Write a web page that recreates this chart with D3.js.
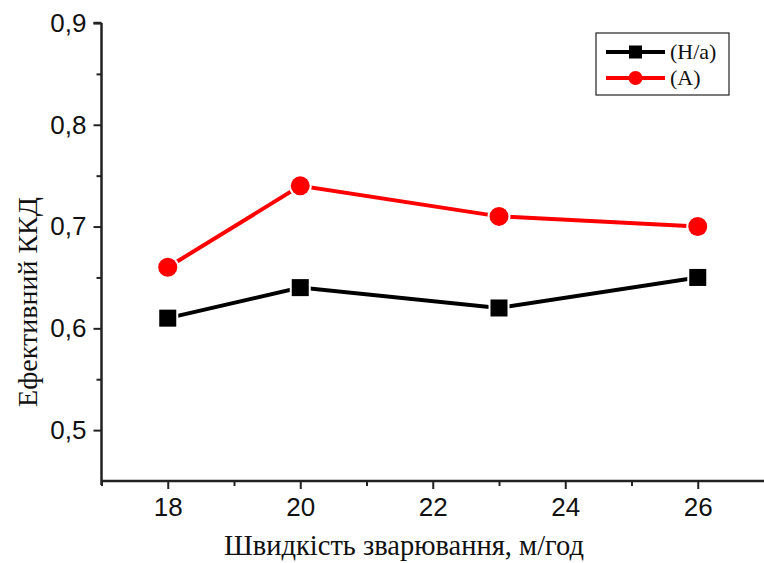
<!DOCTYPE html>
<html><head><meta charset="utf-8">
<script src="https://cdn.jsdelivr.net/npm/d3@7"></script>
<style>body{margin:0;background:#fff}svg{display:block}</style>
</head><body>
<script>
const speeds = [18, 20, 23, 26];
const seriesNa = [0.61, 0.64, 0.62, 0.65];
const seriesA = [0.66, 0.74, 0.71, 0.70];
const xTicks = [18, 20, 22, 24, 26];
const yTicks = [0.5, 0.6, 0.7, 0.8, 0.9];
const legendLabels = ["(H/a)", "(A)"];

const W = 764, H = 563;
const svg = d3.select("body").append("svg").attr("width", W).attr("height", H);

const x = d3.scaleLinear().domain([17, 27]).range([101.5, 764]);
const y = d3.scaleLinear().domain([0.45, 0.9]).range([481, 23]);

const fmt = d => d.toFixed(1).replace(".", ",");

// Y axis
const yAxis = svg.append("g").attr("transform", "translate(101.5,0)")
  .call(d3.axisLeft(y).tickValues(yTicks).tickFormat(fmt).tickSize(8).tickPadding(7));
svg.append("g").attr("transform", "translate(101.5,0)")
  .call(d3.axisLeft(y).tickValues([0.55, 0.65, 0.75, 0.85]).tickFormat("").tickSize(5))
  .select(".domain").remove();

// X axis
const xAxis = svg.append("g").attr("transform", "translate(0,481)")
  .call(d3.axisBottom(x).tickValues(xTicks).tickFormat(d3.format("d")).tickSize(8).tickPadding(9));
svg.append("g").attr("transform", "translate(0,481)")
  .call(d3.axisBottom(x).tickValues([17, 19, 21, 23, 25]).tickFormat("").tickSize(5))
  .select(".domain").remove();

svg.selectAll(".domain").attr("stroke", "#222").attr("stroke-width", 2.5);
svg.selectAll(".tick line").attr("stroke", "#222").attr("stroke-width", 2);
svg.selectAll(".tick text").attr("font-family", "Liberation Sans, Arial, sans-serif")
  .attr("font-size", 26).attr("fill", "#111");
yAxis.selectAll(".domain").attr("d", `M0,${y(0.45)}V${y(0.9)}M-8,${y(0.9)}H0`);
xAxis.select(".domain").attr("d", `M${x(17)},0V4M${x(17)},0H${x(27)}`);

// Axis titles
svg.append("text").attr("x", 404).attr("y", 555).attr("text-anchor", "middle")
  .attr("font-family", "Liberation Serif, Times New Roman, serif").attr("font-size", 28.5)
  .attr("fill", "#111").text("Швидкість зварювання, м/год");
svg.append("text").attr("transform", "translate(37,302) rotate(-90)").attr("text-anchor", "middle")
  .attr("font-family", "Liberation Serif, Times New Roman, serif").attr("font-size", 28)
  .attr("fill", "#111").text("Ефективний ККД");

const line = d3.line().x((d, i) => x(speeds[i])).y(d => y(d));

function drawSeries(vals, color, shape) {
  svg.append("path").datum(vals).attr("d", line).attr("fill", "none")
    .attr("stroke", color).attr("stroke-width", 4);
  const g = svg.append("g");
  vals.forEach((v, i) => {
    if (shape === "square") {
      g.append("rect").attr("x", x(speeds[i]) - 8.5).attr("y", y(v) - 8.5)
        .attr("width", 17).attr("height", 17).attr("fill", color)
        .attr("stroke", "#fff").attr("stroke-width", 4).attr("paint-order", "stroke");
    } else {
      g.append("circle").attr("cx", x(speeds[i])).attr("cy", y(v)).attr("r", 9.5)
        .attr("fill", color).attr("stroke", "#fff").attr("stroke-width", 4)
        .attr("paint-order", "stroke");
    }
  });
}
drawSeries(seriesNa, "#000", "square");
drawSeries(seriesA, "#ff0000", "circle");

// Legend
const lg = svg.append("g");
lg.append("rect").attr("x", 596).attr("y", 33).attr("width", 133).attr("height", 62)
  .attr("fill", "#fff").attr("stroke", "#222").attr("stroke-width", 1.2);
const items = [{c: "#000", s: "square"}, {c: "#ff0000", s: "circle"}];
items.forEach((it, i) => {
  const cy = 52 + i * 26;
  lg.append("line").attr("x1", 606).attr("x2", 665).attr("y1", cy).attr("y2", cy)
    .attr("stroke", it.c).attr("stroke-width", 4);
  if (it.s === "square") {
    lg.append("rect").attr("x", 629).attr("y", cy - 6.5).attr("width", 13).attr("height", 13).attr("fill", it.c);
  } else {
    lg.append("circle").attr("cx", 635.5).attr("cy", cy).attr("r", 7).attr("fill", it.c);
  }
  lg.append("text").attr("x", 670).attr("y", cy + 7).attr("font-family", "Liberation Serif, Times New Roman, serif")
    .attr("font-size", 22).attr("fill", "#111").text(legendLabels[i]);
});
</script>
</body></html>
